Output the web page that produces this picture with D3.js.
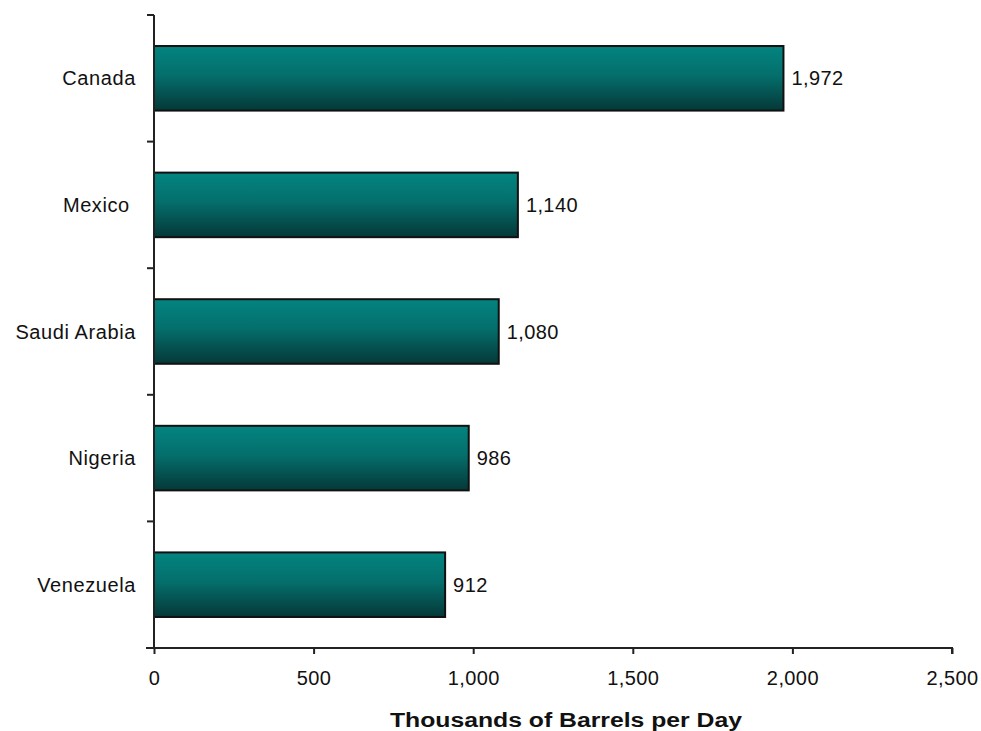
<!DOCTYPE html>
<html>
<head>
<meta charset="utf-8">
<script src="https://cdn.jsdelivr.net/npm/d3@7"></script>
<style>
  html, body { margin: 0; padding: 0; background: #fff; }
  svg text { font-family: "Liberation Sans", Arial, sans-serif; fill: #111; }
</style>
</head>
<body>
<svg id="chart" width="981" height="731"></svg>
<script>
// Crude oil imports by source country (thousands of barrels per day)
const countries = ["Canada", "Mexico ", "Saudi Arabia", "Nigeria", "Venezuela"];
const barrels = [1972, 1140, 1080, 986, 912];
const xTicks = [0, 500, 1000, 1500, 2000, 2500];
const xTitle = "Thousands of Barrels per Day";

const svg = d3.select("#chart");
const margin = { left: 154, top: 15 };
const axisBottom = 648;

const x = d3.scaleLinear().domain([0, 2500]).range([margin.left, 952]);
const y = d3.scaleBand().domain(countries).range([margin.top, axisBottom])
  .paddingInner(0.49).paddingOuter(0.245);

const defs = svg.append("defs");
const grad = defs.append("linearGradient").attr("id", "barFill")
  .attr("x1", 0).attr("y1", 0).attr("x2", 0).attr("y2", 1);
grad.append("stop").attr("offset", "0%").attr("stop-color", "#038480");
grad.append("stop").attr("offset", "45%").attr("stop-color", "#046f6c");
grad.append("stop").attr("offset", "100%").attr("stop-color", "#053838");

const data = countries.map((c, i) => ({ c, v: barrels[i] }));

// bars
svg.append("g").selectAll("rect").data(data).join("rect")
  .attr("x", x(0))
  .attr("y", d => y(d.c))
  .attr("width", d => x(d.v) - x(0))
  .attr("height", y.bandwidth())
  .attr("fill", "url(#barFill)")
  .attr("stroke", "#111")
  .attr("stroke-width", 2);

// value labels
svg.append("g").selectAll("text").data(data).join("text")
  .attr("x", d => x(d.v) + 8)
  .attr("y", d => y(d.c) + y.bandwidth() / 2)
  .attr("dy", "0.35em")
  .attr("font-size", 20)
  .attr("letter-spacing", 0.4)
  .text(d => d3.format(",")(d.v));

// y axis: category boundaries as ticks
const yAxis = svg.append("g");
yAxis.append("line").attr("x1", x(0)).attr("x2", x(0))
  .attr("y1", margin.top).attr("y2", axisBottom).attr("stroke", "#222").attr("stroke-width", 2);
const bounds = countries.map(c => y(c) - y.step() * y.paddingInner() / 2);
bounds[0] = margin.top;
bounds.push(axisBottom);
yAxis.selectAll("line.tk").data(bounds).join("line").attr("class", "tk")
  .attr("x1", x(0) - 7).attr("x2", x(0))
  .attr("y1", d => d).attr("y2", d => d)
  .attr("stroke", "#222").attr("stroke-width", 2);
yAxis.selectAll("text").data(countries).join("text")
  .attr("x", x(0) - 18)
  .attr("y", d => y(d) + y.bandwidth() / 2)
  .attr("dy", "0.35em")
  .attr("text-anchor", "end")
  .attr("font-size", 20)
  .attr("letter-spacing", 0.6)
  .style("white-space", "pre")
  .text(d => d);

// x axis
const xAxis = svg.append("g").attr("transform", `translate(0,${axisBottom})`)
  .call(d3.axisBottom(x).tickValues(xTicks).tickSize(6).tickPadding(17)
    .tickFormat(d3.format(",")));
xAxis.select(".domain").attr("stroke", "#222").attr("stroke-width", 2)
  .attr("d", `M${x(0) - 8},0H${x(2500)}V6`);
xAxis.selectAll(".tick line").attr("stroke", "#222").attr("stroke-width", 2);
xAxis.selectAll(".tick text").attr("font-size", 20).attr("letter-spacing", 0.4)
  .style("font-family", "'Liberation Sans', Arial, sans-serif").attr("fill", "#111");

svg.append("text")
  .attr("x", 566)
  .attr("y", 727)
  .attr("text-anchor", "middle")
  .attr("font-size", 20)
  .attr("font-weight", "bold")
  .attr("textLength", 352)
  .attr("lengthAdjust", "spacingAndGlyphs")
  .text(xTitle);
</script>
</body>
</html>
